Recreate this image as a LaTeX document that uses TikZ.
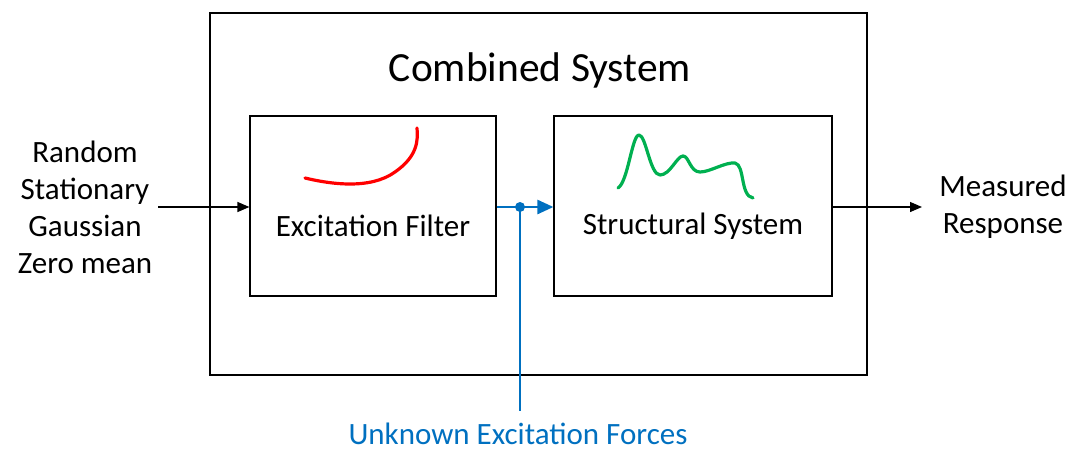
\documentclass[tikz,border=0pt]{standalone}
\usepackage{fontspec}
\setmainfont{Carlito}
\usetikzlibrary{arrows.meta}
\definecolor{myblue}{RGB}{0,112,192}
\definecolor{mygreen}{RGB}{0,176,80}
\begin{document}
\begin{tikzpicture}[x=1pt,y=-1pt,
  box/.style={draw=black,line width=1.2pt,rectangle,inner sep=0pt},
  lbl/.style={font=\fontsize{31}{37}\selectfont,align=center,inner sep=0pt},
  blk/.style={line width=1.3pt,-{Triangle[length=12pt,width=10pt]}},
  blu/.style={draw=myblue,line width=2.6pt}]
\useasboundingbox (0,0) rectangle (1070,453);
\node[box,line width=1.4pt,minimum width=657pt,minimum height=362pt] (outer) at (538.5,194) {};
\node[box,minimum width=246pt,minimum height=180pt] (filt) at (373,206) {};
\node[box,minimum width=278pt,minimum height=180pt] (struct) at (693,206) {};
\node[font=\fontsize{41.5}{48}\selectfont,inner sep=0pt] (title) at (540,70) {Combined System};
\node[lbl] (filtlbl) at (373,226) {Excitation Filter};
\node[lbl] (structlbl) at (693,226) {Structural System};
\node[lbl] (input) at (85,207) {Random\\Stationary\\Gaussian\\Zero mean};
\node[lbl] (output) at (1003,207) {Measured\\Response};
\node[lbl,text=myblue] (forces) at (518,434) {Unknown Excitation Forces};
\coordinate (inl) at (158,207);
\coordinate (outr) at (922,207);
\coordinate (junc) at (520,207);
\coordinate (fend) at (520,411);
\draw[blk] (inl) -- (filt.west |- inl);
\draw[blk] (struct.east |- outr) -- (outr);
\draw[blu,-{Triangle[length=16pt,width=14pt]}] (filt.east |- junc) -- (struct.west |- junc);
\draw[blu] (junc) -- (fend);
\fill[myblue] (junc) circle (5pt);
\draw[red,line width=3.2pt,line cap=round] (305,178) .. controls (330,184) and (370,190) .. (395,172) .. controls (418,156) and (418,140) .. (417,128);
\draw[mygreen,line width=3.2pt,line cap=round,line join=round]
  (618,188) .. controls (628,182) and (632,135) .. (639,135)
  .. controls (646,135) and (650,175) .. (660,175)
  .. controls (670,175) and (677,156) .. (683,156)
  .. controls (689,156) and (690,172) .. (700,172)
  .. controls (710,172) and (725,162) .. (735,163)
  .. controls (745,165) and (740,196) .. (753,198);
\end{tikzpicture}
\end{document}
